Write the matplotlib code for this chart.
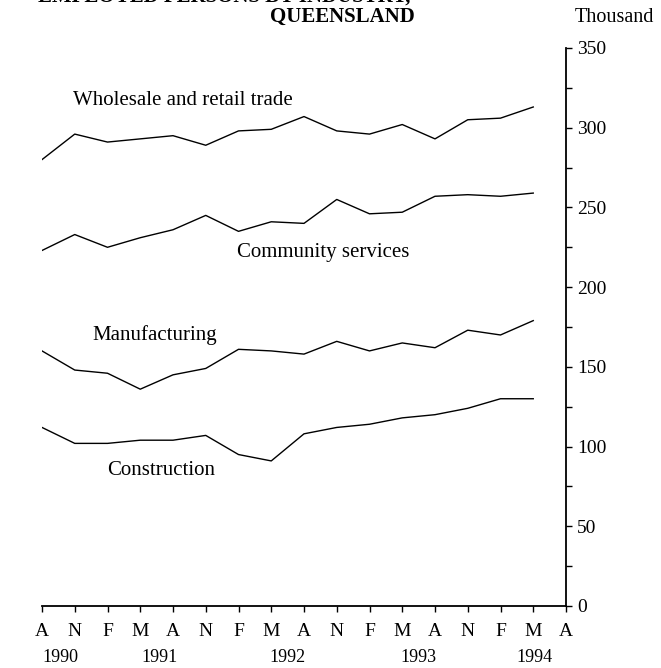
import matplotlib
matplotlib.use("Agg")
import matplotlib.pyplot as plt
from matplotlib.ticker import MultipleLocator

# quarterly points, Aug 1990 .. Aug 1994
quarters = ["A", "N", "F", "M", "A", "N", "F", "M", "A",
            "N", "F", "M", "A", "N", "F", "M", "A"]
years = ["1990", "1991", "1992", "1993", "1994"]

# employed persons, thousand
wholesale = [280, 296, 291, 293, 295, 289, 298, 299, 307, 298, 296, 302, 293, 305, 306, 313]
community = [223, 233, 225, 231, 236, 245, 235, 241, 240, 255, 246, 247, 257, 258, 257, 259]
manufacturing = [160, 148, 146, 136, 145, 149, 161, 160, 158, 166, 160, 165, 162, 173, 170, 179]
construction = [112, 102, 102, 104, 104, 107, 95, 91, 108, 112, 114, 118, 120, 124, 130, 130]

series_names = ["Wholesale and retail trade", "Community services",
                "Manufacturing", "Construction"]

W, H = 661, 668
SERIF = ["Liberation Serif", "DejaVu Serif"]


def fx(px):
    return px / W


def fy(py):
    return 1 - py / H


def main() -> None:
    plt.rcParams["font.family"] = SERIF
    fig = plt.figure(figsize=(W / 100, H / 100), dpi=100)
    ax = fig.add_axes([fx(42), fy(606), fx(566) - fx(42), fy(48) - fy(606)])

    for values in (wholesale, community, manufacturing, construction):
        ax.plot(range(len(values)), values, color="black", linewidth=1.0)

    ax.set_xlim(0, len(quarters) - 1)
    ax.set_ylim(0, 350)

    for side in ("left", "top"):
        ax.spines[side].set_visible(False)
    ax.spines["right"].set_linewidth(1.3)
    ax.spines["bottom"].set_linewidth(1.3)

    ax.yaxis.tick_right()
    ax.yaxis.set_major_locator(MultipleLocator(50))
    ax.yaxis.set_minor_locator(MultipleLocator(25))
    ax.tick_params(axis="y", which="both", direction="out", length=4, width=1.0,
                   pad=4, labelsize=14)
    ax.set_xticks(range(len(quarters)))
    ax.set_xticklabels(quarters)
    ax.tick_params(axis="x", direction="out", length=4, width=1.0, pad=8,
                   labelsize=14)

    xt = ax.get_xaxis_transform()
    for label, pos in zip(years, [0.55, 3.6, 7.5, 11.5, 15.05]):
        ax.text(pos, -0.093, label, transform=xt, ha="center", va="center",
                fontsize=13)

    ax.text(0.95, 317, series_names[0], ha="left", va="center", fontsize=15)
    ax.text(8.6, 221.5, series_names[1], ha="center", va="center", fontsize=15)
    ax.text(1.53, 170, series_names[2], ha="left", va="center", fontsize=15)
    ax.text(2.0, 85, series_names[3], ha="left", va="center", fontsize=15)

    fig.text(fx(342), fy(17), "QUEENSLAND", ha="center", va="center",
             fontsize=15, fontweight="bold")
    fig.text(fx(38), fy(-3), "EMPLOYED PERSONS BY INDUSTRY,", ha="left",
             va="center", fontsize=15, fontweight="bold")
    fig.text(fx(575), fy(17), "Thousand", ha="left", va="center", fontsize=14.5)

    fig.savefig("out.png", dpi=100)
    plt.close(fig)


if __name__ == "__main__":
    main()
